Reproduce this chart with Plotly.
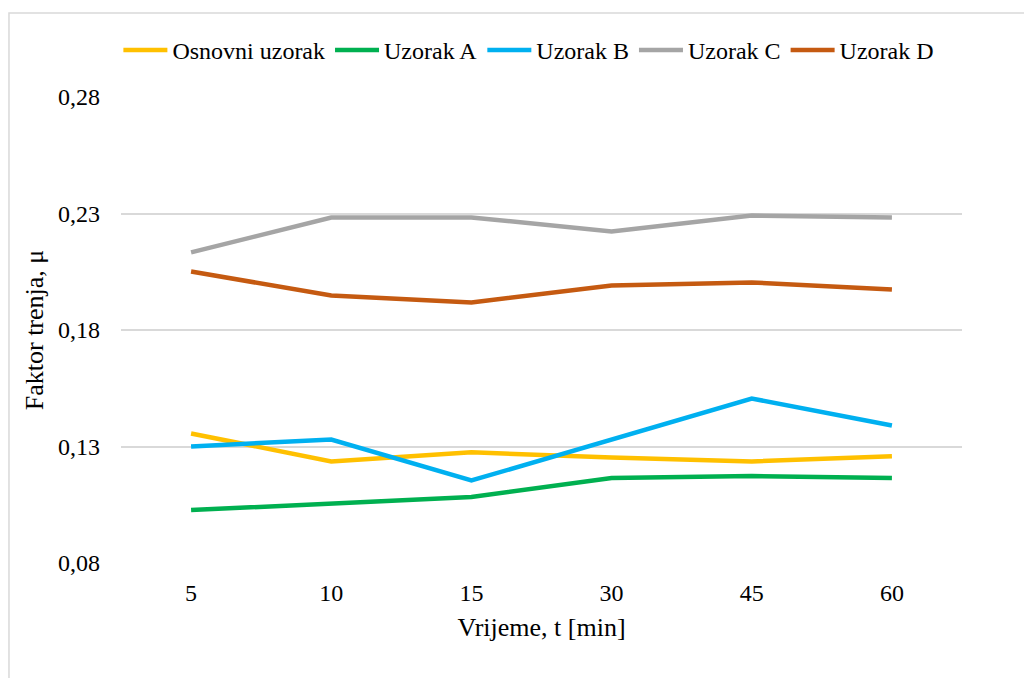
import plotly.graph_objects as go

# vrijeme (min) - kategorije na x osi
vrijeme = ["5", "10", "15", "30", "45", "60"]

osnovni = [0.1356, 0.1236, 0.1275, 0.1253, 0.1236, 0.1258]
uzorak_a = [0.1027, 0.1053, 0.1083, 0.1165, 0.1173, 0.1165]
uzorak_b = [0.1300, 0.1330, 0.1154, 0.1330, 0.1506, 0.1390]
uzorak_c = [0.2133, 0.2283, 0.2283, 0.2223, 0.2291, 0.2283]
uzorak_d = [0.2051, 0.1948, 0.1918, 0.1991, 0.2004, 0.1974]

serije = [
    ("Osnovni uzorak", osnovni, "#FFC000"),
    ("Uzorak A", uzorak_a, "#00B050"),
    ("Uzorak B", uzorak_b, "#00B0F0"),
    ("Uzorak C", uzorak_c, "#A5A5A5"),
    ("Uzorak D", uzorak_d, "#C55A11"),
]

serif = "Liberation Serif"

fig = go.Figure()
for ime, vrijednosti, boja in serije:
    fig.add_trace(go.Scatter(
        x=vrijeme, y=vrijednosti, name=ime, mode="lines",
        line=dict(color=boja, width=4.5),
    ))

fig.update_layout(
    width=1024, height=678,
    margin=dict(l=121, r=62, t=97, b=115),
    paper_bgcolor="white", plot_bgcolor="white",
    separators=",.",
    font=dict(family=serif, size=24, color="black"),
    showlegend=True,
    legend=dict(
        orientation="h", x=0.485, xanchor="center",
        y=1.1, yanchor="middle", bgcolor="rgba(0,0,0,0)",
        font=dict(family=serif, size=24, color="black"),
        itemwidth=44,
    ),
    xaxis=dict(
        type="category", range=[-0.5, 5.5],
        showgrid=False, showline=False, zeroline=False,
        ticks="", ticklabelstandoff=13,
        tickfont=dict(family=serif, size=24, color="black"),
        title=dict(text="Vrijeme, t [min]", font=dict(family=serif, size=26), standoff=12),
    ),
    yaxis=dict(
        range=[0.08, 0.28], tick0=0.08, dtick=0.05, tickformat=".2f",
        showgrid=True, gridcolor="#D9D9D9", gridwidth=1.5,
        zeroline=False, showline=False, ticks="", ticklabelstandoff=20,
        tickfont=dict(family=serif, size=24, color="black"),
        title=dict(text="Faktor trenja, μ", font=dict(family=serif, size=26), standoff=6),
    ),
    shapes=[dict(
        type="rect", xref="paper", yref="paper",
        x0=-0.1332, x1=1.09, y0=-0.28, y1=1.180,
        line=dict(color="#D9D9D9", width=1.5), fillcolor="rgba(0,0,0,0)",
        layer="below",
    )],
)

fig.write_html("out.html", config={"displayModeBar": False},
               post_script="document.body.style.margin='0';")
